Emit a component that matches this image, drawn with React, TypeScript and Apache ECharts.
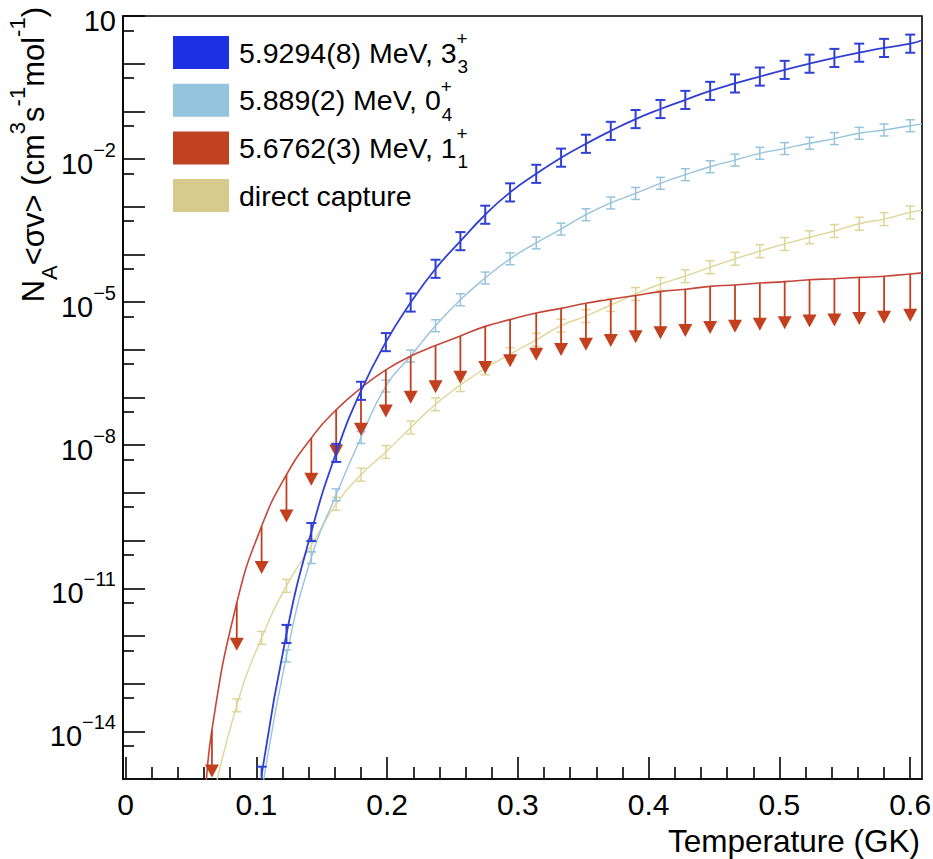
import { useEffect, useRef } from 'react';
import * as echarts from 'echarts';

const FONT = "'Liberation Sans', Arial, Helvetica, sans-serif";

// Temperatures (GK) of the plotted rate points
const temperatures = [0.066, 0.085, 0.104, 0.123, 0.142, 0.161, 0.180, 0.199, 0.218, 0.237,
  0.256, 0.275, 0.294, 0.314, 0.333, 0.352, 0.371, 0.390, 0.409, 0.428,
  0.447, 0.466, 0.485, 0.504, 0.523, 0.542, 0.561, 0.580, 0.600];

// 5.9294(8) MeV, 3+_3
const rate3plus = [null, null, 1.17e-15, 1.1e-12, 1.51e-10, 6.9e-9, 1.38e-7, 1.45e-6, 9.8e-6, 5.0e-5,
  1.9e-4, 6.8e-4, 2.0e-3, 4.9e-3, 1.07e-2, 2.09e-2, 3.9e-2, 6.9e-2, 0.112, 0.174,
  0.269, 0.385, 0.537, 0.741, 1.0, 1.32, 1.70, 2.14, 2.63];
// 5.889(2) MeV, 0+_4
const rate0plus = [null, null, null, 3.8e-13, 4.4e-11, 9.1e-10, 1.45e-8, 1.74e-7, 7.4e-7, 3.2e-6,
  1.12e-5, 3.2e-5, 8.1e-5, 1.74e-4, 3.4e-4, 6.8e-4, 1.2e-3, 1.9e-3, 3.1e-3, 4.7e-3,
  6.9e-3, 9.5e-3, 1.32e-2, 1.66e-2, 2.14e-2, 2.69e-2, 3.47e-2, 4.07e-2, 5.0e-2];
// 5.6762(3) MeV, 1+_1 (upper limits)
const rate1plusLimit = [1.07e-14, 4.9e-12, 2.0e-10, 2.4e-9, 1.41e-8, 5.5e-8, 1.58e-7, 3.8e-7, 7.4e-7, 1.23e-6,
  1.95e-6, 3.1e-6, 4.3e-6, 5.9e-6, 7.4e-6, 9.5e-6, 1.15e-5, 1.38e-5, 1.66e-5, 1.86e-5,
  2.14e-5, 2.29e-5, 2.51e-5, 2.69e-5, 2.95e-5, 3.1e-5, 3.3e-5, 3.5e-5, 3.9e-5];
// direct capture
const rateDirect = [null, 3.5e-14, 9.1e-13, 1.12e-11, 7.8e-11, 5.9e-10, 2.4e-9, 7.2e-9, 2.34e-8, 7.2e-8,
  1.82e-7, 4.1e-7, 8.1e-7, 1.62e-6, 3.2e-6, 5.1e-6, 8.7e-6, 1.48e-5, 2.4e-5, 3.5e-5,
  5.4e-5, 8.1e-5, 1.17e-4, 1.66e-4, 2.29e-4, 3.1e-4, 4.4e-4, 5.5e-4, 7.6e-4];

// curve continuation beyond the points
const curve3plusHead: number[][] = [];
const curve3plusTail = [[0.609, 3.1]];
const curve0plusHead = [[0.104, 5e-16]];
const curve0plusTail = [[0.609, 5.4e-2]];
const curve1plusHead = [[0.061, 3e-16]];
const curve1plusTail = [[0.609, 4.1e-5]];
const curveDirectHead = [[0.066, 3e-16]];
const curveDirectTail = [[0.609, 8.5e-4]];

// error bar half-size in decades
const err3plusDex = 0.19;
const err0plusDex = 0.125;
const errDirectDex = 0.135;

const xMajorTicks = [0, 0.1, 0.2, 0.3, 0.4, 0.5, 0.6];
const xMinorTicks = [0.02, 0.04, 0.06, 0.08, 0.12, 0.14, 0.16, 0.18, 0.22, 0.24, 0.26, 0.28,
  0.32, 0.34, 0.36, 0.38, 0.42, 0.44, 0.46, 0.48, 0.52, 0.54, 0.56, 0.58];
const yLabelTicks = [1e1, 1e-2, 1e-5, 1e-8, 1e-11, 1e-14];
const yMajorTicks = [1e1, 1e0, 1e-1, 1e-2, 1e-3, 1e-4, 1e-5, 1e-6, 1e-7, 1e-8, 1e-9, 1e-10,
  1e-11, 1e-12, 1e-13, 1e-14];
const yMinorTicks = [5e0, 5e-1, 5e-2, 5e-3, 5e-4, 5e-5, 5e-6, 5e-7, 5e-8, 5e-9, 5e-10, 5e-11,
  5e-12, 5e-13, 5e-14, 5e-15];

const legendLabels = [
  { rich: '{b|5.9294(8) MeV, 3}{sup|+}{sub|3}', color: '#1d30e3' },
  { rich: '{b|5.889(2) MeV, 0}{sup|+}{sub|4}', color: '#93c5df' },
  { rich: '{b|5.6762(3) MeV, 1}{sup|+}{sub|1}', color: '#c1421f' },
  { rich: '{b|direct capture}', color: '#d6cb8c' },
];

const COL_BLUE = '#3140d4';
const COL_LBLUE = '#96c4dc';
const COL_RED = '#c2401e';
const COL_REDLINE = '#c4473a';
const COL_TAN = '#dfd597';

function pointsOf(vals: (number | null)[]) {
  const out: number[][] = [];
  temperatures.forEach((t, i) => { if (vals[i] != null) out.push([t, vals[i] as number]); });
  return out;
}

function errDataOf(vals: (number | null)[], dex: number) {
  const f = Math.pow(10, dex);
  const out: number[][] = [];
  temperatures.forEach((t, i) => {
    const v = vals[i];
    if (v != null) out.push([t, v, v / f, v * f]);
  });
  return out;
}

function lineSeries(name: string, head: number[][], vals: (number | null)[], tail: number[][], color: string, width: number, z: number) {
  return {
    type: 'line', name, z, silent: true, clip: true,
    data: [...head, ...pointsOf(vals), ...tail],
    smooth: 0.5, showSymbol: false, symbol: 'none',
    lineStyle: { color, width }, itemStyle: { color },
  };
}

function errorSeries(name: string, vals: (number | null)[], dex: number, color: string, lw: number, cap: number, z: number) {
  return {
    type: 'custom', name, z, silent: true, clip: true,
    data: errDataOf(vals, dex),
    encode: { x: 0, y: 1 },
    renderItem: (_p: any, api: any) => {
      const t = api.value(0);
      const lo = api.coord([t, api.value(2)]);
      const hi = api.coord([t, api.value(3)]);
      const st = { stroke: color, lineWidth: lw, fill: null };
      return {
        type: 'group', children: [
          { type: 'line', shape: { x1: lo[0], y1: lo[1], x2: hi[0], y2: hi[1] }, style: st },
          { type: 'line', shape: { x1: lo[0] - cap, y1: lo[1], x2: lo[0] + cap, y2: lo[1] }, style: st },
          { type: 'line', shape: { x1: hi[0] - cap, y1: hi[1], x2: hi[0] + cap, y2: hi[1] }, style: st },
        ],
      };
    },
  };
}

function arrowSeries() {
  return {
    type: 'custom', name: 'limits', z: 4, silent: true, clip: true,
    data: pointsOf(rate1plusLimit),
    encode: { x: 0, y: 1 },
    renderItem: (_p: any, api: any) => {
      const t = api.value(0);
      const v = api.value(1);
      const top = api.coord([t, v]);
      const tip = api.coord([t, v / 10]);
      return {
        type: 'group', children: [
          { type: 'line', shape: { x1: top[0], y1: top[1], x2: tip[0], y2: tip[1] - 8 }, style: { stroke: COL_RED, lineWidth: 1.8 } },
          { type: 'polygon', shape: { points: [[tip[0] - 7, tip[1] - 13], [tip[0] + 7, tip[1] - 13], [tip[0], tip[1]]] }, style: { fill: COL_RED } },
        ],
      };
    },
  };
}

const axisLineStyle = { color: '#000', width: 1.6 };

function buildOption() {
  const yRich = {
    b: { fontSize: 29, lineHeight: 38, verticalAlign: 'bottom', fontFamily: FONT, color: '#000' },
    s: { fontSize: 20, lineHeight: 20, verticalAlign: 'top', fontFamily: FONT, color: '#000' },
  };
  const titleRich = {
    b: { fontSize: 31, lineHeight: 54, verticalAlign: 'middle', fontFamily: FONT, fill: '#000' },
    sup: { fontSize: 22, lineHeight: 22, verticalAlign: 'top', fontFamily: FONT, fill: '#000' },
    sub: { fontSize: 22, lineHeight: 22, verticalAlign: 'bottom', fontFamily: FONT, fill: '#000' },
  };
  const legRich = {
    b: { fontSize: 28.5, lineHeight: 47, verticalAlign: 'middle', fontFamily: FONT, fill: '#000' },
    sup: { fontSize: 19, lineHeight: 19, verticalAlign: 'top', width: 1, fontFamily: FONT, fill: '#000' },
    sub: { fontSize: 19, lineHeight: 19, verticalAlign: 'bottom', fontFamily: FONT, fill: '#000' },
  };

  const graphic: any[] = [];
  legendLabels.forEach((item, k) => {
    const top = 36 + 47.7 * k;
    graphic.push({ type: 'rect', shape: { x: 173, y: top, width: 56, height: 33 }, style: { fill: item.color } });
    graphic.push({
      type: 'text', x: 239, y: top + 16.5,
      style: { text: item.rich, rich: legRich, align: 'left', verticalAlign: 'middle', fontFamily: FONT, fontSize: 28.5, fill: '#000' },
    });
  });
  graphic.push({
    type: 'text', x: 920, y: 841,
    style: { text: 'Temperature (GK)', align: 'right', verticalAlign: 'middle', fontFamily: FONT, fontSize: 31.5, fill: '#000' },
  });
  graphic.push({
    type: 'text', x: 33, y: 7, rotation: Math.PI / 2,
    style: {
      text: '{b|N}{sub|A}{b|<σv> (cm}{sup|3}{b|s}{sup|-1}{b|mol}{sup|-1}{b|)}',
      rich: titleRich, align: 'right', verticalAlign: 'middle', fontFamily: FONT, fontSize: 31, fill: '#000',
    },
  });

  return {
    animation: false,
    backgroundColor: '#fff',
    textStyle: { fontFamily: FONT },
    grid: {
      left: 123, top: 16, width: 799, height: 763, show: true,
      borderColor: '#000', borderWidth: 1.6, backgroundColor: 'transparent',
      containLabel: false, outerBoundsMode: 'none',
    },
    xAxis: [
      {
        type: 'value', min: -0.002, max: 0.609, position: 'bottom',
        axisLine: { show: true, onZero: false, lineStyle: axisLineStyle },
        axisTick: { show: true, inside: true, length: 22, customValues: xMajorTicks, lineStyle: axisLineStyle },
        axisLabel: {
          show: true, customValues: xMajorTicks, margin: 10, fontSize: 30, color: '#000', fontFamily: FONT,
          formatter: (v: number) => String(v),
        },
        splitLine: { show: false }, minorTick: { show: false },
      },
      {
        type: 'value', min: -0.002, max: 0.609, position: 'bottom',
        axisLine: { show: false, onZero: false },
        axisTick: { show: true, inside: true, length: 12, customValues: xMinorTicks, lineStyle: axisLineStyle },
        axisLabel: { show: false }, splitLine: { show: false },
      },
    ],
    yAxis: [
      {
        type: 'log', logBase: 10, min: 1e-15, max: 10, position: 'left',
        axisLine: { show: true, onZero: false, lineStyle: axisLineStyle },
        axisTick: { show: true, inside: true, length: 22, customValues: yMajorTicks, lineStyle: axisLineStyle },
        axisLabel: {
          show: true, customValues: yLabelTicks, margin: 7, color: '#000', fontFamily: FONT, fontSize: 29,
          rich: yRich,
          formatter: (v: number) => {
            const e = Math.round(Math.log10(v));
            return e === 1 ? '{b|10}' : '{b|10}{s|\u2212' + (-e) + '}';
          },
        },
        splitLine: { show: false },
      },
      {
        type: 'log', logBase: 10, min: 1e-15, max: 10, position: 'left',
        axisLine: { show: false, onZero: false },
        axisTick: { show: true, inside: true, length: 11, customValues: yMinorTicks, lineStyle: axisLineStyle },
        axisLabel: { show: false }, splitLine: { show: false },
      },
    ],
    series: [
      lineSeries('direct capture', curveDirectHead, rateDirect, curveDirectTail, COL_TAN, 1.4, 1),
      errorSeries('direct capture errors', rateDirect, errDirectDex, COL_TAN, 1.5, 4.5, 1),
      lineSeries('5.889(2) MeV, 0+4', curve0plusHead, rate0plus, curve0plusTail, COL_LBLUE, 1.4, 2),
      errorSeries('0+4 errors', rate0plus, err0plusDex, COL_LBLUE, 1.5, 4.5, 2),
      lineSeries('5.6762(3) MeV, 1+1', curve1plusHead, rate1plusLimit, curve1plusTail, COL_REDLINE, 1.6, 3),
      arrowSeries(),
      lineSeries('5.9294(8) MeV, 3+3', curve3plusHead, rate3plus, curve3plusTail, COL_BLUE, 1.8, 5),
      errorSeries('3+3 errors', rate3plus, err3plusDex, COL_BLUE, 2, 5, 5),
    ],
    graphic,
  };
}

export default function App() {
  const ref = useRef<HTMLDivElement>(null);
  useEffect(() => {
    const chart = echarts.init(ref.current!, null, { renderer: 'svg' });
    chart.setOption(buildOption() as any);
    return () => chart.dispose();
  }, []);
  return (
    <div
      ref={ref}
      style={{ position: 'absolute', left: 0, top: 0, width: 933, height: 859, background: '#fff' }}
    />
  );
}
